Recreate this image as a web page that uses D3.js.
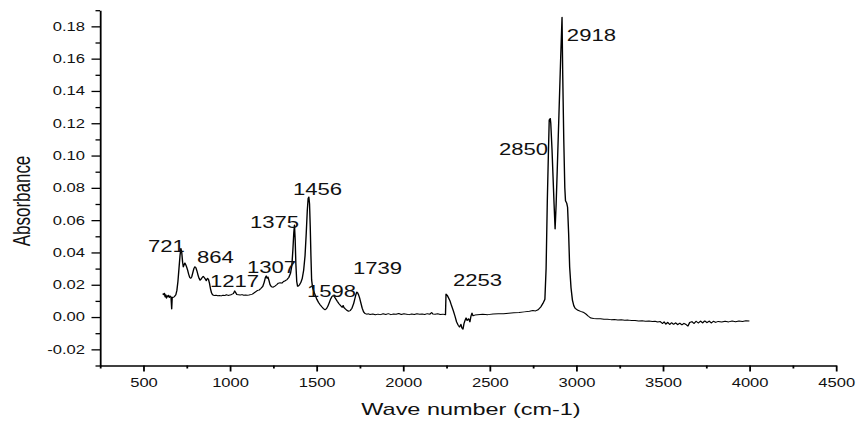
<!DOCTYPE html>
<html>
<head>
<meta charset="utf-8">
<script src="https://cdn.jsdelivr.net/npm/d3@7"></script>
<style>
  html, body { margin: 0; padding: 0; background: #fff; }
  svg { display: block; font-family: "Liberation Sans", Arial, sans-serif; }
</style>
</head>
<body>
<div id="chart"></div>
<script>
/* FTIR spectrum: absorbance vs wave number, with labelled peaks.
   The original image is stretched sideways, so the drawing is done in a
   narrower viewBox and stretched back to 859 px. */

// spectrum: [wave number, absorbance]
const SPECTRUM = [
  [612,0.0145],[618,0.0138],[622,0.0148],[626,0.0124],[630,0.0138],[634,0.0117],[638,0.0132],
  [642,0.0126],[646,0.0135],[650,0.0121],[655,0.0130],[660,0.0125],[664,0.0050],[667,0.0123],
  [672,0.0121],[680,0.0127],[688,0.0138],[694,0.0165],[700,0.0220],[706,0.0300],[712,0.0380],
  [717,0.0425],[722,0.0400],[727,0.0340],[731,0.0310],[735,0.0322],[740,0.0335],[745,0.0325],
  [750,0.0310],[756,0.0290],[762,0.0265],[768,0.0245],[774,0.0240],[780,0.0250],[786,0.0275],
  [792,0.0300],[798,0.0312],[804,0.0305],[810,0.0285],[816,0.0260],[822,0.0240],[828,0.0228],
  [834,0.0235],[840,0.0245],[846,0.0252],[852,0.0245],[858,0.0236],[864,0.0225],[870,0.0240],
  [876,0.0235],[882,0.0210],[888,0.0175],[894,0.0150],[900,0.0138],[910,0.0133],[920,0.0135],
  [930,0.0132],[940,0.0134],[950,0.0131],[960,0.0135],[970,0.0133],[980,0.0138],[990,0.0134],
  [1000,0.0136],[1010,0.0140],[1020,0.0145],[1028,0.0162],[1034,0.0150],[1040,0.0140],
  [1050,0.0138],[1060,0.0136],[1070,0.0139],[1080,0.0135],[1090,0.0137],[1100,0.0135],
  [1110,0.0136],[1120,0.0139],[1130,0.0142],[1140,0.0150],[1150,0.0158],[1160,0.0165],
  [1170,0.0168],[1180,0.0178],[1190,0.0190],[1198,0.0215],[1205,0.0245],[1210,0.0255],
  [1215,0.0240],[1220,0.0248],[1226,0.0225],[1232,0.0200],[1240,0.0188],[1250,0.0185],
  [1260,0.0192],[1270,0.0200],[1280,0.0210],[1290,0.0212],[1300,0.0210],[1310,0.0220],
  [1320,0.0225],[1330,0.0232],[1340,0.0245],[1350,0.0270],[1358,0.0320],[1364,0.0420],
  [1369,0.0520],[1373,0.0570],[1377,0.0480],[1381,0.0330],[1386,0.0220],[1391,0.0190],
  [1396,0.0192],[1402,0.0200],[1410,0.0215],[1418,0.0240],[1426,0.0290],[1434,0.0380],
  [1441,0.0520],[1447,0.0660],[1452,0.0735],[1456,0.0743],[1460,0.0700],[1464,0.0560],
  [1468,0.0380],[1472,0.0230],[1478,0.0180],[1486,0.0155],[1494,0.0132],[1502,0.0110],
  [1512,0.0090],[1522,0.0075],[1532,0.0062],[1542,0.0050],[1550,0.0045],[1558,0.0052],
  [1566,0.0068],[1574,0.0090],[1582,0.0112],[1590,0.0128],[1596,0.0132],[1602,0.0128],
  [1610,0.0115],[1620,0.0098],[1630,0.0082],[1640,0.0070],[1648,0.0060],[1654,0.0072],
  [1658,0.0060],[1665,0.0052],[1675,0.0042],[1685,0.0036],[1695,0.0040],[1705,0.0055],
  [1715,0.0085],[1722,0.0115],[1728,0.0140],[1733,0.0155],[1738,0.0150],[1744,0.0135],
  [1750,0.0115],[1757,0.0085],[1764,0.0055],[1772,0.0032],[1780,0.0022],[1790,0.0018],
  [1800,0.0020],[1810,0.0016],[1825,0.0019],[1840,0.0014],[1855,0.0018],[1870,0.0015],
  [1885,0.0020],[1900,0.0016],[1915,0.0021],[1930,0.0015],[1945,0.0019],[1960,0.0017],
  [1975,0.0022],[1990,0.0016],[2005,0.0020],[2020,0.0018],[2035,0.0015],[2050,0.0019],
  [2065,0.0016],[2080,0.0020],[2095,0.0017],[2110,0.0019],[2125,0.0016],[2140,0.0021],
  [2155,0.0018],[2165,0.0028],[2172,0.0019],[2185,0.0017],[2200,0.0020],[2215,0.0016],
  [2230,0.0018],[2245,0.0014],[2248,0.0142],[2255,0.0135],[2263,0.0118],[2271,0.0100],
  [2280,0.0070],[2290,0.0040],[2300,0.0005],[2309,-0.0030],[2318,-0.0050],[2326,-0.0062],
  [2334,-0.0045],[2340,-0.0068],[2346,-0.0075],[2352,-0.0040],[2358,-0.0020],[2364,-0.0005],
  [2370,-0.0022],[2378,-0.0010],[2386,-0.0030],[2392,0.0005],[2398,0.0025],[2404,0.0008],
  [2415,0.0012],[2430,0.0014],[2460,0.0017],[2490,0.0015],[2520,0.0019],[2550,0.0021],
  [2580,0.0020],[2610,0.0024],[2640,0.0026],[2670,0.0028],[2700,0.0032],[2730,0.0036],
  [2750,0.0040],[2765,0.0038],[2780,0.0045],[2795,0.0062],[2808,0.0085],[2819,0.0110],
  [2826,0.0300],[2833,0.0720],[2839,0.1000],[2844,0.1220],[2850,0.1230],[2853,0.1200],
  [2860,0.1040],[2866,0.0870],[2872,0.0700],[2878,0.0545],[2884,0.0700],[2890,0.0900],
  [2900,0.1250],[2910,0.1600],[2918,0.1856],[2922,0.1500],[2928,0.1100],[2934,0.0800],
  [2938,0.0720],[2945,0.0705],[2950,0.0680],[2956,0.0520],[2962,0.0310],[2970,0.0180],
  [2978,0.0105],[2986,0.0070],[2994,0.0054],[3010,0.0042],[3025,0.0035],[3040,0.0030],
  [3055,0.0020],[3070,0.0005],[3085,-0.0006],[3100,-0.0009],[3120,-0.0011],[3140,-0.0010],
  [3160,-0.0014],[3180,-0.0013],[3200,-0.0016],[3220,-0.0015],[3240,-0.0018],[3260,-0.0017],
  [3280,-0.0020],[3300,-0.0019],[3320,-0.0022],[3340,-0.0021],[3360,-0.0024],[3380,-0.0023],
  [3400,-0.0026],[3420,-0.0025],[3440,-0.0028],[3455,-0.0026],[3470,-0.0031],[3485,-0.0028],
  [3498,-0.0040],[3508,-0.0030],[3518,-0.0044],[3528,-0.0033],[3540,-0.0046],[3550,-0.0035],
  [3562,-0.0045],[3574,-0.0036],[3586,-0.0047],[3598,-0.0038],[3610,-0.0048],[3622,-0.0039],
  [3634,-0.0046],[3645,-0.0056],[3655,-0.0034],[3668,-0.0028],[3680,-0.0040],[3692,-0.0026],
  [3705,-0.0037],[3718,-0.0025],[3730,-0.0036],[3742,-0.0024],[3755,-0.0035],[3768,-0.0025],
  [3780,-0.0037],[3792,-0.0026],[3805,-0.0033],[3820,-0.0027],[3840,-0.0031],[3860,-0.0026],
  [3880,-0.0030],[3900,-0.0025],[3920,-0.0029],[3940,-0.0024],[3960,-0.0027],[3980,-0.0023],
  [4000,-0.0024]
];

// peak labels and where their text starts (in data units)
const PEAK_LABELS = ["721","864","1217","1307","1375","1456","1598","1739","2253","2850","2918"];
const PEAK_LABEL_X = [527, 810, 885, 1099, 1116, 1364, 1445, 1711, 2288, 2554, 2946];
const PEAK_LABEL_Y = [0.0402, 0.0334, 0.0186, 0.0272, 0.0551, 0.0755, 0.0124, 0.0266, 0.0192, 0.1003, 0.1709];

const X_MAJOR = [500, 1000, 1500, 2000, 2500, 3000, 3500, 4000, 4500];
const X_MINOR = [250, 750, 1250, 1750, 2250, 2750, 3250, 3750, 4250];
const Y_MAJOR = [-0.02, 0.00, 0.02, 0.04, 0.06, 0.08, 0.10, 0.12, 0.14, 0.16, 0.18];
const Y_MINOR = [-0.03, -0.01, 0.01, 0.03, 0.05, 0.07, 0.09, 0.11, 0.13, 0.15, 0.17, 0.19];

const W = 859, H = 423;
const K = 1.38;            // horizontal stretch of the original picture
const VW = W / K;          // width of the drawing space before stretching

const svg = d3.select("#chart").append("svg")
    .attr("width", W).attr("height", H)
    .attr("viewBox", `0 0 ${VW} ${H}`)
    .attr("preserveAspectRatio", "none");

const x = d3.scaleLinear().domain([250, 4500]).range([100 / K, 836 / K]);
const y = d3.scaleLinear().domain([-0.03, 0.19]).range([365.5, 10.2]);

// minor ticks first, no labels
svg.append("g").attr("transform", `translate(0,${y(-0.03)})`)
    .call(d3.axisBottom(x).tickValues(X_MINOR).tickSize(3).tickFormat(""))
    .call(g => g.select(".domain").remove());
svg.append("g").attr("transform", `translate(${x(250)},0)`)
    .call(d3.axisLeft(y).tickValues(Y_MINOR).tickSize(4.5 / K).tickFormat(""))
    .call(g => g.select(".domain").remove());

const xAxis = svg.append("g").attr("transform", `translate(0,${y(-0.03)})`)
    .call(d3.axisBottom(x).tickValues(X_MAJOR).tickSize(6).tickSizeOuter(0).tickPadding(6.5)
      .tickFormat(d3.format("d")));
const yAxis = svg.append("g").attr("transform", `translate(${x(250)},0)`)
    .call(d3.axisLeft(y).tickValues(Y_MAJOR).tickSize(8.5 / K).tickSizeOuter(0).tickPadding(6.5 / K)
      .tickFormat(d => d.toFixed(2)));

[xAxis, yAxis].forEach(a => {
  a.selectAll("path, line").attr("stroke", "#000").attr("stroke-width", 1.3);
  a.selectAll("text").attr("font-size", 12).attr("fill", "#111")
    .attr("font-family", '"Liberation Sans", Arial, sans-serif');
});
svg.selectAll(".tick line").attr("stroke", "#000").attr("stroke-width", 1.3);

// the spectrum
svg.append("path")
    .datum(SPECTRUM)
    .attr("fill", "none")
    .attr("stroke", "#000")
    .attr("stroke-width", 1)
    .attr("stroke-linejoin", "round")
    .attr("d", d3.line().x(d => x(d[0])).y(d => y(d[1])));

// peak labels
svg.append("g").selectAll("text").data(PEAK_LABELS).join("text")
    .attr("x", (d, i) => x(PEAK_LABEL_X[i]))
    .attr("y", (d, i) => y(PEAK_LABEL_Y[i]))
    .attr("font-size", 16)
    .attr("fill", "#111")
    .text(d => d);

// axis titles
svg.append("text")
    .attr("x", 471 / K).attr("y", 415)
    .attr("text-anchor", "middle")
    .attr("font-size", 17)
    .attr("fill", "#111")
    .text("Wave number (cm-1)");

svg.append("text")
    .attr("transform", `translate(${30 / K},201) rotate(-90)`)
    .attr("text-anchor", "middle")
    .attr("font-size", 17)
    .attr("fill", "#111")
    .text("Absorbance");
</script>
</body>
</html>
